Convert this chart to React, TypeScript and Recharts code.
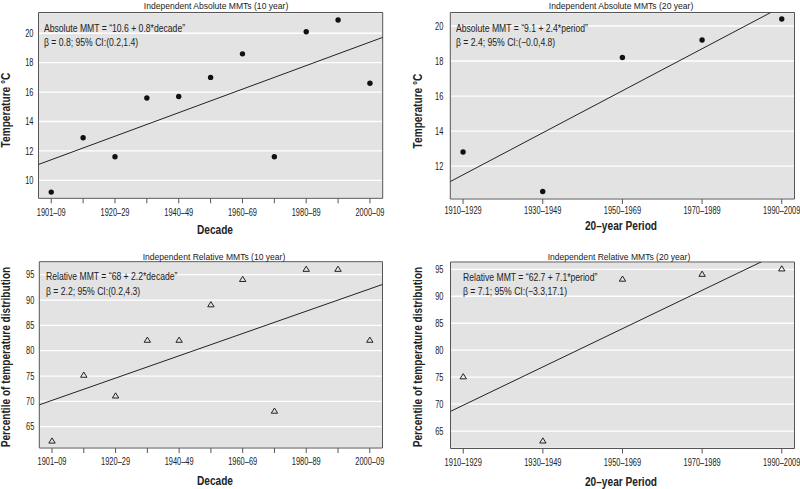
import React from 'react'
import { ScatterChart, Scatter, XAxis, YAxis, CartesianGrid, ReferenceLine, ReferenceArea } from 'recharts'

// Liberation Sans squeezed horizontally stands in for the condensed face of the original
const FONT = "'Liberation Sans', Arial, sans-serif"
const TEXT = '#222'
const TICK_SX = 0.71
const TITLE_SX = 0.9
const NOTE_SX = 0.82
const AXIS_SX = 0.81

// categories
const decades = ['1901–09', '1910–19', '1920–29', '1930–39', '1940–49', '1950–59', '1960–69', '1970–79', '1980–89', '1990–99', '2000–09']
const periods = ['1910–1929', '1930–1949', '1950–1969', '1970–1989', '1990–2009']

// values
const absMMT10 = [9.2, 12.9, 11.6, 15.6, 15.7, 17.0, 18.6, 11.6, 20.1, 20.9, 16.6]
const absMMT20 = [12.8, 10.55, 18.2, 19.2, 20.4]
const relMMT10 = [62.2, 75.2, 71.1, 82.1, 82.1, 89.1, 94.1, 68.1, 96.1, 96.1, 82.1]
const relMMT20 = [75.1, 63.2, 93.2, 94.1, 95.1]

// y ticks
const absTicks10 = [10, 12, 14, 16, 18, 20]
const absTicks20 = [12, 14, 16, 18, 20]
const relTicks = [65, 70, 75, 80, 85, 90, 95]

// fitted lines: intercept + slope * decade/period (1-based)
const fitAbs10 = { a: 10.6, b: 0.8 }
const fitAbs20 = { a: 9.1, b: 2.4 }
const fitRel10 = { a: 68, b: 2.2 }
const fitRel20 = { a: 62.7, b: 7.1 }

const Dot = (p: any) => <circle cx={p.cx} cy={p.cy} r={2.7} fill="#111" />

const Tri = (p: any) => (
  <path
    d={`M${p.cx},${p.cy - 3}L${p.cx + 3.2},${p.cy + 2.2}L${p.cx - 3.2},${p.cy + 2.2}Z`}
    fill="none"
    stroke="#222"
    strokeWidth={1}
  />
)

const XTick = ({ x, y, payload, fmt }: any) => {
  const s = fmt(payload.value)
  if (!s) return null
  return (
    <text transform={`translate(${x},${y}) scale(${TICK_SX},1)`} textAnchor="middle" dy="0.71em" fontSize={10.5} fill={TEXT} fontFamily={FONT}>
      {s}
    </text>
  )
}

const YTick = ({ x, y, payload }: any) => (
  <text transform={`translate(${x},${y}) scale(${TICK_SX},1)`} textAnchor="end" dy="0.355em" fontSize={10.5} fill={TEXT} fontFamily={FONT}>
    {payload.value}
  </text>
)

const base: React.CSSProperties = {
  position: 'absolute',
  whiteSpace: 'nowrap',
  color: TEXT,
  pointerEvents: 'none',
  fontFamily: FONT,
}

type PanelProps = {
  left: number
  top: number
  height: number
  box: { l: number; t: number; r: number; b: number }
  title: string
  titleAt: [number, number]
  notes: string[]
  noteAt: [number, number]
  values: number[]
  labels: string[]
  everyOther: boolean
  xDomain: [number, number]
  yDomain: [number, number]
  yTicks: number[]
  fit: { a: number; b: number }
  yLabel: string
  yLabelAt: [number, number]
  xLabel: string
  xLabelAt: [number, number]
  tickGap: number
  tickMargin: number
  shape: any
}

function Panel(p: PanelProps) {
  const data = p.values.map((v, i) => ({ x: i, y: v }))
  const xs = p.labels.map((_, i) => i)
  const [x0, x1] = p.xDomain
  const line = (x: number) => p.fit.a + p.fit.b * (x + 1)
  const fmt = (i: number) => (p.everyOther && i % 2 ? '' : p.labels[i])
  return (
    <div style={{ position: 'absolute', left: p.left, top: p.top, width: 400, height: p.height }}>
      <ScatterChart
        width={400}
        height={p.height}
        margin={{ top: p.box.t, right: 400 - p.box.r, bottom: 0, left: 0 }}
        style={{ fontFamily: FONT }}
      >
        <CartesianGrid vertical={false} stroke="#fff" strokeWidth={1.3} fill="#e3e3e3" />
        <XAxis
          type="number"
          dataKey="x"
          domain={p.xDomain}
          allowDataOverflow
          ticks={xs}
          interval={0}
          height={p.height - p.box.b}
          tickSize={5}
          tickMargin={p.tickMargin}
          axisLine={false}
          tickLine={{ stroke: '#555' }}
          tick={(t: any) => <XTick {...t} fmt={fmt} />}
        />
        <YAxis
          type="number"
          dataKey="y"
          domain={p.yDomain}
          allowDataOverflow
          ticks={p.yTicks}
          interval={0}
          width={p.box.l}
          tickSize={0}
          tickMargin={p.tickGap}
          axisLine={false}
          tickLine={false}
          tick={(t: any) => <YTick {...t} />}
        />
        <ReferenceLine
          segment={[{ x: x0, y: line(x0) }, { x: x1, y: line(x1) }]}
          stroke="#222"
          strokeWidth={1}
          ifOverflow="hidden"
        />
        <Scatter data={data} shape={p.shape} isAnimationActive={false} />
        <ReferenceArea
          x1={x0}
          x2={x1}
          y1={p.yDomain[0]}
          y2={p.yDomain[1]}
          fill="none"
          fillOpacity={0}
          stroke="#555"
          strokeWidth={1}
          ifOverflow="visible"
        />
      </ScatterChart>
      <div
        style={{
          ...base,
          left: p.titleAt[0],
          top: p.titleAt[1],
          fontSize: 9.5,
          lineHeight: '12px',
          transform: `translate(-50%,-50%) scaleX(${TITLE_SX})`,
        }}
      >
        {p.title}
      </div>
      {p.notes.map((n, i) => (
        <div
          key={i}
          style={{
            ...base,
            left: p.noteAt[0],
            top: p.noteAt[1] + i * 14.4 - 6.5,
            fontSize: 10.5,
            lineHeight: '13px',
            transformOrigin: 'left center',
            transform: `scaleX(${NOTE_SX})`,
          }}
        >
          {n}
        </div>
      ))}
      <div
        style={{
          ...base,
          left: p.yLabelAt[0],
          top: p.yLabelAt[1],
          fontSize: 12.5,
          fontWeight: 700,
          lineHeight: '12px',
          transform: `translate(-50%,-50%) rotate(-90deg) scaleX(${AXIS_SX})`,
        }}
      >
        {p.yLabel}
      </div>
      <div
        style={{
          ...base,
          left: p.xLabelAt[0],
          top: p.xLabelAt[1],
          fontSize: 12.5,
          fontWeight: 700,
          lineHeight: '12px',
          transform: `translate(-50%,-50%) scaleX(${AXIS_SX})`,
        }}
      >
        {p.xLabel}
      </div>
    </div>
  )
}

export default function App() {
  return (
    <div style={{ position: 'absolute', left: 0, top: 0, width: 800, height: 489, background: '#fff', overflow: 'hidden' }}>
      <Panel
        left={0}
        top={0}
        height={245}
        box={{ l: 38.5, t: 12.5, r: 382.7, b: 198.3 }}
        title="Independent Absolute MMTs (10 year)"
        titleAt={[215.7, 5.7]}
        notes={['Absolute MMT = “10.6 + 0.8*decade”', 'β = 0.8; 95% CI:(0.2,1.4)']}
        noteAt={[44, 28.3]}
        values={absMMT10}
        labels={decades}
        everyOther
        xDomain={[-0.4, 10.4]}
        yDomain={[8.78, 21.41]}
        yTicks={absTicks10}
        fit={fitAbs10}
        yLabel="Temperature °C"
        yLabelAt={[6, 110]}
        xLabel="Decade"
        xLabelAt={[214.7, 229.7]}
        tickGap={5}
        tickMargin={5}
        shape={Dot}
      />
      <Panel
        left={400}
        top={0}
        height={245}
        box={{ l: 50.3, t: 12.5, r: 394.5, b: 199 }}
        title="Independent Absolute MMTs (20 year)"
        titleAt={[220.7, 5.7]}
        notes={['Absolute MMT = “9.1 + 2.4*period”', 'β = 2.4; 95% CI:(−0.0,4.8)']}
        noteAt={[55.7, 28.3]}
        values={absMMT20}
        labels={periods}
        everyOther={false}
        xDomain={[-0.16, 4.16]}
        yDomain={[10.12, 20.77]}
        yTicks={absTicks20}
        fit={fitAbs20}
        yLabel="Temperature °C"
        yLabelAt={[18, 111]}
        xLabel="20–year Period"
        xLabelAt={[221, 225.5]}
        tickGap={7}
        tickMargin={3}
        shape={Dot}
      />
      <Panel
        left={0}
        top={245}
        height={244}
        box={{ l: 39.3, t: 16.7, r: 382.5, b: 203 }}
        title="Independent Relative MMTs (10 year)"
        titleAt={[213.8, 11.5]}
        notes={['Relative MMT = “68 + 2.2*decade”', 'β = 2.2; 95% CI:(0.2,4.3)']}
        noteAt={[46, 31.7]}
        values={relMMT10}
        labels={decades}
        everyOther
        xDomain={[-0.4, 10.4]}
        yDomain={[60.8, 97.57]}
        yTicks={relTicks}
        fit={fitRel10}
        yLabel="Percentile of temperature distribution"
        yLabelAt={[6, 111.7]}
        xLabel="Decade"
        xLabelAt={[215, 236.2]}
        tickGap={5}
        tickMargin={5}
        shape={Tri}
      />
      <Panel
        left={400}
        top={245}
        height={244}
        box={{ l: 50.5, t: 17, r: 394.5, b: 203.5 }}
        title="Independent Relative MMTs (20 year)"
        titleAt={[218.8, 11.5]}
        notes={['Relative MMT = “62.7 + 7.1*period”', 'β = 7.1; 95% CI:(−3.3,17.1)']}
        noteAt={[63.3, 32.3]}
        values={relMMT20}
        labels={periods}
        everyOther={false}
        xDomain={[-0.16, 4.16]}
        yDomain={[61.78, 96.35]}
        yTicks={relTicks}
        fit={fitRel20}
        yLabel="Percentile of temperature distribution"
        yLabelAt={[18, 111.7]}
        xLabel="20–year Period"
        xLabelAt={[221, 236.5]}
        tickGap={7}
        tickMargin={5}
        shape={Tri}
      />
    </div>
  )
}
